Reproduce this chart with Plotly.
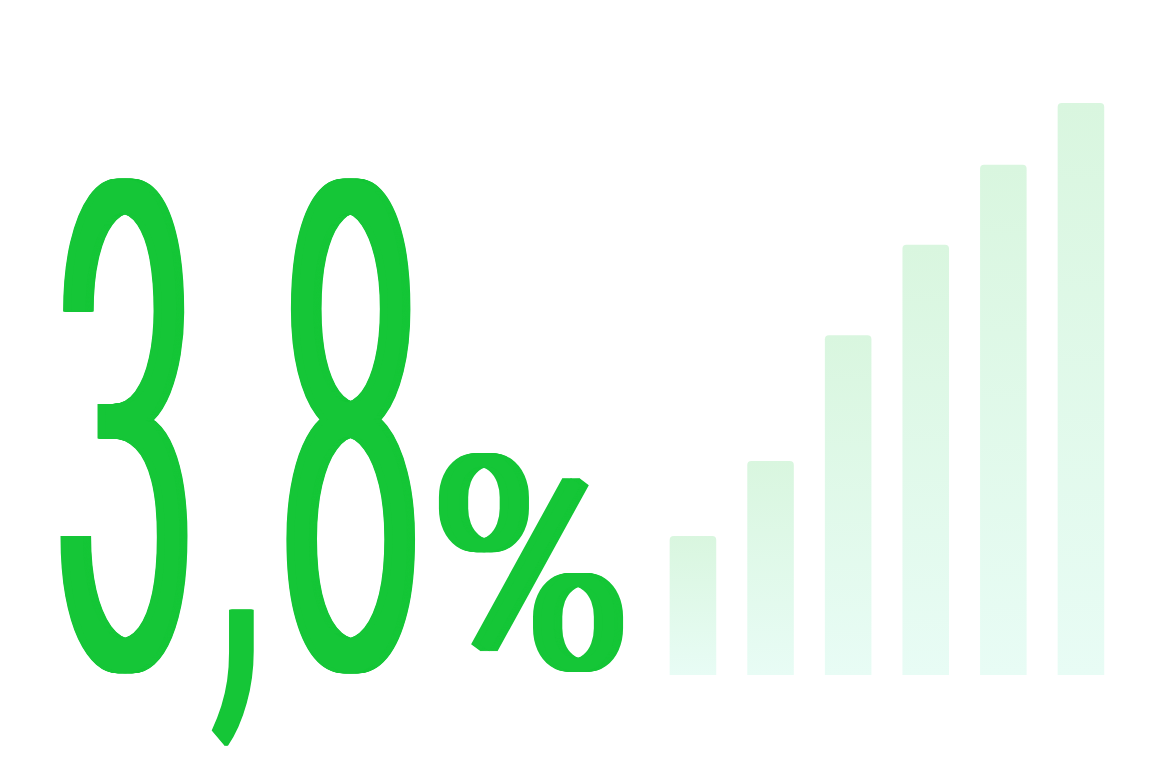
import json
import plotly.graph_objects as go

# headline figure and the bars next to it
headline_parts = ["3", ",", "8", "%"]
bar_positions = [0, 1, 2, 3, 4, 5]
bar_values = [2.43, 3.74, 5.94, 7.52, 8.92, 10.0]

GREEN = "#15c637"
W, H = 1150, 780


def px(x):
    return x / W


def py(y):
    return 1 - y / H


fig = go.Figure()
fig.add_trace(
    go.Bar(
        x=bar_positions,
        y=bar_values,
        width=0.6,
        marker=dict(color="#e0f8e8", line=dict(width=0), cornerradius=4),
        hoverinfo="skip",
        showlegend=False,
    )
)

# char, x centre px, y centre px, font size, x squeeze, y stretch, stroke spread
glyphs = [
    (headline_parts[0], 125, 435, 420, 0.592, 1.612, 33),
    (headline_parts[1], 238, 459, 420, 0.9, 1.436, 4),
    (headline_parts[2], 350, 435, 420, 0.592, 1.612, 33),
    (headline_parts[3], 530, 567, 299, 0.88, 1.0, 18),
]
for ch, x, y, size, *_ in glyphs:
    fig.add_annotation(
        text=ch,
        x=px(x),
        y=py(y),
        xref="paper",
        yref="paper",
        xanchor="center",
        yanchor="middle",
        showarrow=False,
        font=dict(family="Roboto", size=size, color=GREEN, weight=300),
    )

fig.update_xaxes(visible=False, range=[-8.93, 5.89], fixedrange=True)
fig.update_yaxes(visible=False, range=[-1.836, 11.80], fixedrange=True)
fig.update_layout(
    width=W,
    height=H,
    margin=dict(l=0, r=0, t=0, b=0),
    paper_bgcolor="white",
    plot_bgcolor="white",
    bargap=0.4,
)

squeeze = json.dumps([[g[4], g[5], g[6]] for g in glyphs])

post = """
document.body.style.margin = '0';
var gd = document.getElementById('{plot_id}');
var ns = 'http://www.w3.org/2000/svg';
var defs = gd.querySelector('.main-svg defs');
var grad = document.createElementNS(ns, 'linearGradient');
grad.setAttribute('id', 'barfade');
grad.setAttribute('x1', '0'); grad.setAttribute('y1', '0');
grad.setAttribute('x2', '0'); grad.setAttribute('y2', '1');
[['0', '#d9f6df'], ['1', '#e8fcf5']].forEach(function (s) {
    var st = document.createElementNS(ns, 'stop');
    st.setAttribute('offset', s[0]);
    st.setAttribute('stop-color', s[1]);
    grad.appendChild(st);
});
defs.appendChild(grad);
gd.querySelectorAll('.bars .point path').forEach(function (p) {
    p.style.fill = 'url(#barfade)';
});
// squeeze the headline into a tall condensed face
var squeeze = SQUEEZE;
gd.querySelectorAll('.annotation-text').forEach(function (t, i) {
    var s = squeeze[i], sh = [];
    for (var dx = -s[2] / 2; dx <= s[2] / 2; dx += 1) {
        sh.push(dx + 'px 0 0 #15c637');
    }
    t.style.textShadow = sh.join(',');
    t.style.transformBox = 'fill-box';
    t.style.transformOrigin = 'center';
    t.style.transform = 'scale(' + s[0] + ',' + s[1] + ')';
});
""".replace("SQUEEZE", squeeze)

fig.write_html("out.html", post_script=post, config={"displayModeBar": False})
